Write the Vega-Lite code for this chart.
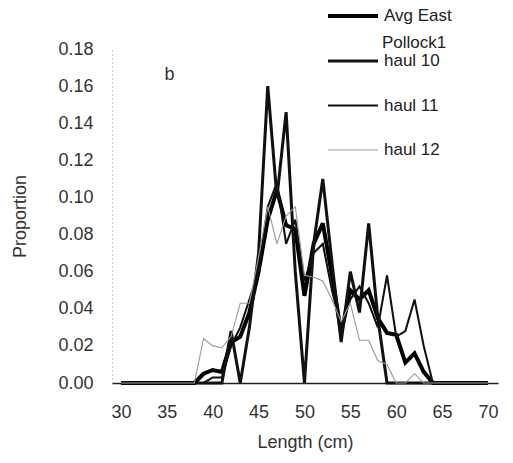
{
  "$schema": "https://vega.github.io/schema/vega-lite/v6.json",
  "autosize": "none",
  "width": 386,
  "height": 334,
  "padding": {"left": 112, "top": 49, "right": 15, "bottom": 80},
  "background": "white",
  "config": {
    "view": {"stroke": null},
    "font": "Liberation Sans",
    "axis": {"labelFont": "Liberation Sans", "titleFont": "Liberation Sans", "labelColor": "#333", "titleColor": "#333", "grid": false, "ticks": false, "labelFontSize": 18, "titleFontSize": 18, "titleFontWeight": "normal", "labelOverlap": false},
    "legend": {"labelFont": "Liberation Sans", "labelFontSize": 17, "labelColor": "#222"}
  },
  "data": {
    "values": [
      {"L": 30, "p": 0, "series": "Avg East"},
      {"L": 38, "p": 0, "series": "Avg East"},
      {"L": 39, "p": 0.005, "series": "Avg East"},
      {"L": 40, "p": 0.007, "series": "Avg East"},
      {"L": 41, "p": 0.006, "series": "Avg East"},
      {"L": 42, "p": 0.022, "series": "Avg East"},
      {"L": 43, "p": 0.025, "series": "Avg East"},
      {"L": 44, "p": 0.038, "series": "Avg East"},
      {"L": 45, "p": 0.06, "series": "Avg East"},
      {"L": 46, "p": 0.088, "series": "Avg East"},
      {"L": 47, "p": 0.104, "series": "Avg East"},
      {"L": 48, "p": 0.085, "series": "Avg East"},
      {"L": 49, "p": 0.083, "series": "Avg East"},
      {"L": 50, "p": 0.047, "series": "Avg East"},
      {"L": 51, "p": 0.075, "series": "Avg East"},
      {"L": 52, "p": 0.086, "series": "Avg East"},
      {"L": 53, "p": 0.058, "series": "Avg East"},
      {"L": 54, "p": 0.027, "series": "Avg East"},
      {"L": 55, "p": 0.05, "series": "Avg East"},
      {"L": 56, "p": 0.045, "series": "Avg East"},
      {"L": 57, "p": 0.05, "series": "Avg East"},
      {"L": 58, "p": 0.035, "series": "Avg East"},
      {"L": 59, "p": 0.027, "series": "Avg East"},
      {"L": 60, "p": 0.026, "series": "Avg East"},
      {"L": 61, "p": 0.011, "series": "Avg East"},
      {"L": 62, "p": 0.016, "series": "Avg East"},
      {"L": 63, "p": 0.006, "series": "Avg East"},
      {"L": 64, "p": 0, "series": "Avg East"},
      {"L": 70, "p": 0, "series": "Avg East"},

      {"L": 30, "p": 0, "series": "haul 10"},
      {"L": 41, "p": 0, "series": "haul 10"},
      {"L": 42, "p": 0.028, "series": "haul 10"},
      {"L": 43, "p": 0, "series": "haul 10"},
      {"L": 44, "p": 0.03, "series": "haul 10"},
      {"L": 45, "p": 0.07, "series": "haul 10"},
      {"L": 46, "p": 0.16, "series": "haul 10"},
      {"L": 47, "p": 0.1, "series": "haul 10"},
      {"L": 48, "p": 0.146, "series": "haul 10"},
      {"L": 49, "p": 0.06, "series": "haul 10"},
      {"L": 50, "p": 0, "series": "haul 10"},
      {"L": 51, "p": 0.075, "series": "haul 10"},
      {"L": 52, "p": 0.11, "series": "haul 10"},
      {"L": 53, "p": 0.065, "series": "haul 10"},
      {"L": 54, "p": 0.022, "series": "haul 10"},
      {"L": 55, "p": 0.06, "series": "haul 10"},
      {"L": 56, "p": 0.038, "series": "haul 10"},
      {"L": 57, "p": 0.086, "series": "haul 10"},
      {"L": 58, "p": 0.035, "series": "haul 10"},
      {"L": 59, "p": 0, "series": "haul 10"},
      {"L": 70, "p": 0, "series": "haul 10"},

      {"L": 30, "p": 0, "series": "haul 11"},
      {"L": 39, "p": 0, "series": "haul 11"},
      {"L": 40, "p": 0.003, "series": "haul 11"},
      {"L": 41, "p": 0.003, "series": "haul 11"},
      {"L": 42, "p": 0.02, "series": "haul 11"},
      {"L": 43, "p": 0.03, "series": "haul 11"},
      {"L": 44, "p": 0.045, "series": "haul 11"},
      {"L": 45, "p": 0.06, "series": "haul 11"},
      {"L": 46, "p": 0.095, "series": "haul 11"},
      {"L": 47, "p": 0.108, "series": "haul 11"},
      {"L": 48, "p": 0.075, "series": "haul 11"},
      {"L": 49, "p": 0.088, "series": "haul 11"},
      {"L": 50, "p": 0.055, "series": "haul 11"},
      {"L": 51, "p": 0.07, "series": "haul 11"},
      {"L": 52, "p": 0.075, "series": "haul 11"},
      {"L": 53, "p": 0.05, "series": "haul 11"},
      {"L": 54, "p": 0.03, "series": "haul 11"},
      {"L": 55, "p": 0.045, "series": "haul 11"},
      {"L": 56, "p": 0.052, "series": "haul 11"},
      {"L": 57, "p": 0.043, "series": "haul 11"},
      {"L": 58, "p": 0.03, "series": "haul 11"},
      {"L": 59, "p": 0.058, "series": "haul 11"},
      {"L": 60, "p": 0.025, "series": "haul 11"},
      {"L": 61, "p": 0.028, "series": "haul 11"},
      {"L": 62, "p": 0.045, "series": "haul 11"},
      {"L": 63, "p": 0.02, "series": "haul 11"},
      {"L": 64, "p": 0, "series": "haul 11"},
      {"L": 70, "p": 0, "series": "haul 11"},

      {"L": 30, "p": 0, "series": "haul 12"},
      {"L": 38, "p": 0, "series": "haul 12"},
      {"L": 39, "p": 0.024, "series": "haul 12"},
      {"L": 40, "p": 0.02, "series": "haul 12"},
      {"L": 41, "p": 0.019, "series": "haul 12"},
      {"L": 42, "p": 0.025, "series": "haul 12"},
      {"L": 43, "p": 0.043, "series": "haul 12"},
      {"L": 44, "p": 0.043, "series": "haul 12"},
      {"L": 45, "p": 0.068, "series": "haul 12"},
      {"L": 46, "p": 0.095, "series": "haul 12"},
      {"L": 47, "p": 0.075, "series": "haul 12"},
      {"L": 48, "p": 0.09, "series": "haul 12"},
      {"L": 49, "p": 0.095, "series": "haul 12"},
      {"L": 50, "p": 0.058, "series": "haul 12"},
      {"L": 51, "p": 0.057, "series": "haul 12"},
      {"L": 52, "p": 0.055, "series": "haul 12"},
      {"L": 53, "p": 0.045, "series": "haul 12"},
      {"L": 54, "p": 0.033, "series": "haul 12"},
      {"L": 55, "p": 0.043, "series": "haul 12"},
      {"L": 56, "p": 0.023, "series": "haul 12"},
      {"L": 57, "p": 0.023, "series": "haul 12"},
      {"L": 58, "p": 0.012, "series": "haul 12"},
      {"L": 59, "p": 0.01, "series": "haul 12"},
      {"L": 60, "p": 0, "series": "haul 12"},
      {"L": 61, "p": 0, "series": "haul 12"},
      {"L": 62, "p": 0.005, "series": "haul 12"},
      {"L": 63, "p": 0, "series": "haul 12"},
      {"L": 70, "p": 0, "series": "haul 12"}
    ]
  },
  "layer": [
    {
      "mark": {"type": "line", "strokeJoin": "miter", "strokeMiterLimit": 3},
      "encoding": {
        "x": {
          "field": "L", "type": "quantitative",
          "scale": {"domain": [29.02, 71.1], "nice": false, "zero": false},
          "axis": {"title": "Length (cm)", "values": [30, 35, 40, 45, 50, 55, 60, 65, 70], "domainColor": "#222", "domainWidth": 1.5, "labelPadding": 20, "titlePadding": 12, "labelOverlap": false, "labelBound": false}
        },
        "y": {
          "field": "p", "type": "quantitative",
          "scale": {"domain": [0, 0.18], "nice": false},
          "axis": {"title": "Proportion", "tickCount": 9, "format": ".2f", "domainColor": "#999", "domainDash": [1, 3], "labelPadding": 19, "titlePadding": 28, "labelOverlap": false, "labelBound": false, "labelFlush": false, "labelSeparation": 0}
        },
        "color": {
          "field": "series", "type": "nominal",
          "scale": {"domain": ["Avg East", "haul 10", "haul 11", "haul 12"], "range": ["#000000", "#111111", "#111111", "#999999"]},
          "legend": {
            "title": null, "orient": "none", "legendX": 214, "legendY": -60,
            "symbolType": "stroke", "symbolSize": 2500, "labelOffset": 4,
            "rowPadding": 10
          }
        },
        "strokeWidth": {
          "field": "series", "type": "nominal",
          "scale": {"domain": ["Avg East", "haul 10", "haul 11", "haul 12"], "range": [4, 1.1, 1.7, 1]},
          "legend": {
            "title": null, "orient": "none", "legendX": 214, "legendY": -60,
            "symbolType": "stroke", "symbolSize": 2500, "labelOffset": 4,
            "rowPadding": 10
          }
        },
        "order": {"field": "L", "type": "quantitative"}
      }
    },
    {
      "data": {"values": [{"note": "b"}]},
      "mark": {"type": "text", "font": "Liberation Sans", "fontSize": 18, "fontWeight": "normal", "fill": "#333"},
      "encoding": {
        "x": {"datum": 35.3, "type": "quantitative"},
        "y": {"datum": 0.166, "type": "quantitative"},
        "text": {"field": "note"}
      }
    },
    {
      "data": {"values": [{"note": "Pollock1"}]},
      "mark": {"type": "text", "font": "Liberation Sans", "fontSize": 17, "align": "left", "baseline": "middle", "fill": "#222"},
      "encoding": {
        "x": {"datum": 58.45, "type": "quantitative"},
        "y": {"datum": 0.183, "type": "quantitative"},
        "text": {"field": "note"}
      }
    }
  ]
}
